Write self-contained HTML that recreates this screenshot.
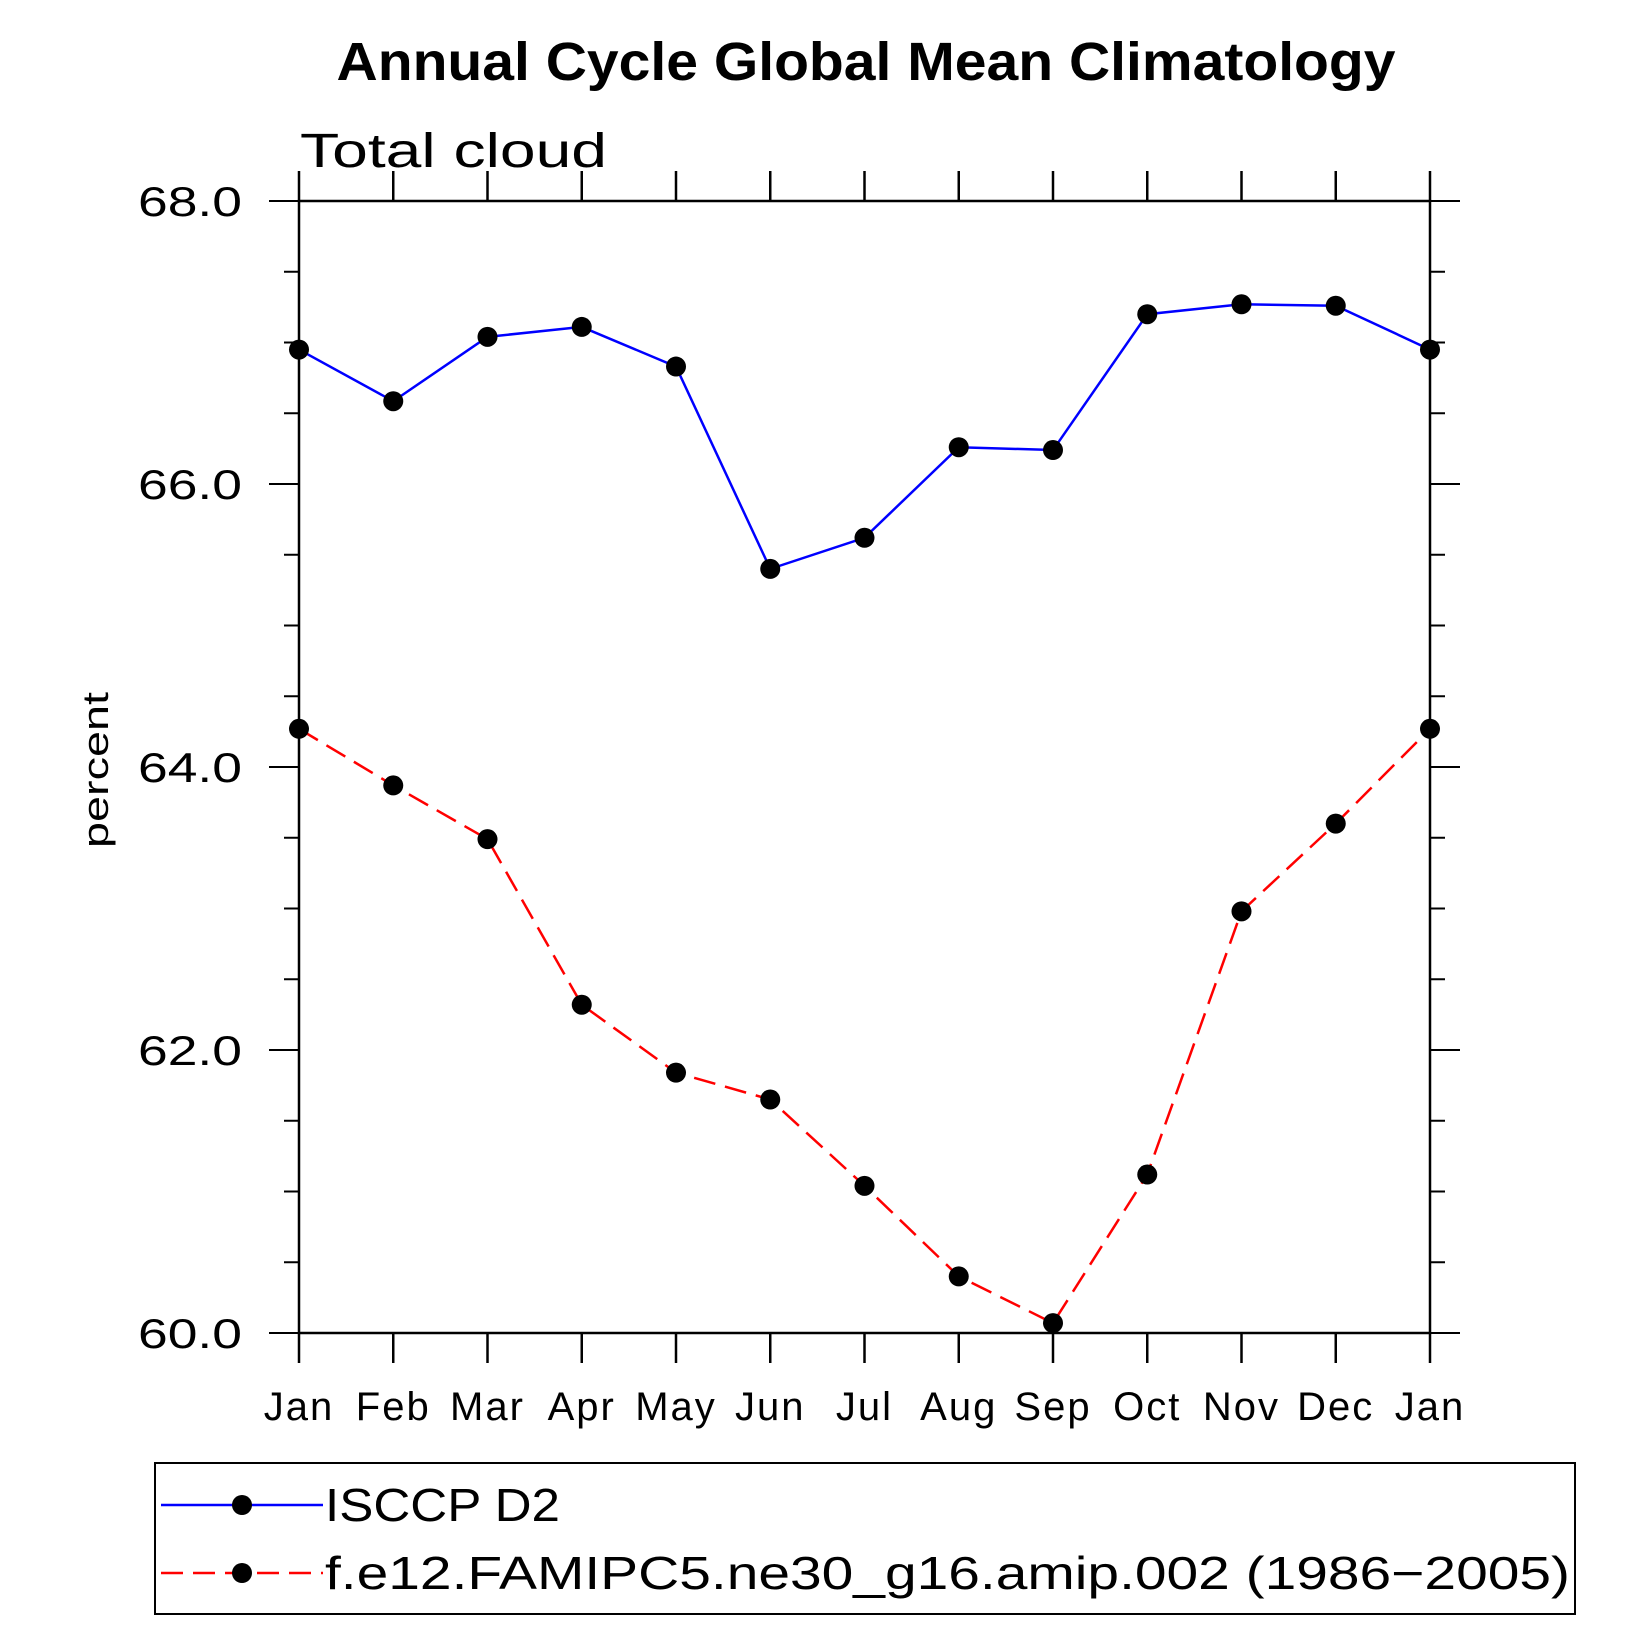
<!DOCTYPE html>
<html><head><meta charset="utf-8"><style>body{margin:0;background:#fff}svg{display:block}text{font-family:"Liberation Sans",sans-serif}</style></head>
<body>
<svg id="chart" width="1652" height="1652" viewBox="0 0 1652 1652" xmlns="http://www.w3.org/2000/svg">
<text x="866" y="80" text-anchor="middle" font-size="54" font-weight="bold" textLength="1059" lengthAdjust="spacingAndGlyphs">Annual Cycle Global Mean Climatology</text>
<text x="300" y="167" font-size="48" font-weight="300" textLength="307" lengthAdjust="spacingAndGlyphs">Total cloud</text>
<text transform="translate(108,770) rotate(-90)" text-anchor="middle" font-size="36" textLength="156" lengthAdjust="spacingAndGlyphs">percent</text>
<g id="axes"></g>
<g id="series"></g>
<g>
<rect x="155" y="1463" width="1420" height="151" fill="none" stroke="#000" stroke-width="2"/>
<g>
<line x1="161" y1="1505" x2="323" y2="1505" stroke="#00f" stroke-width="2.5"/>
<circle cx="242" cy="1505" r="10" fill="#000"/>
<text x="325" y="1521" font-size="46" textLength="235" lengthAdjust="spacingAndGlyphs">ISCCP D2</text>
</g>
<g>
<line x1="161" y1="1573" x2="323" y2="1573" stroke="#f00" stroke-width="2.5" stroke-dasharray="22,10"/>
<circle cx="242" cy="1573" r="10" fill="#000"/>
<text x="325" y="1589" font-size="46" textLength="1245" lengthAdjust="spacingAndGlyphs">f.e12.FAMIPC5.ne30_g16.amip.002 (1986−2005)</text>
</g>
</g>
</svg>
<script>
const months = ["Jan","Feb","Mar","Apr","May","Jun","Jul","Aug","Sep","Oct","Nov","Dec","Jan"];
const isccp = [66.95,66.585,67.04,67.11,66.83,65.40,65.62,66.26,66.24,67.20,67.27,67.26,66.95];
const model = [64.27,63.87,63.49,62.32,61.84,61.65,61.04,60.40,60.07,61.12,62.98,63.60,64.27];
const yTicks = [60,62,64,66,68];
const yTickLabels = ["60.0","62.0","64.0","66.0","68.0"];

const NS="http://www.w3.org/2000/svg";
const L=299,R=1430,T=201,B=1333,ymin=60,ymax=68;
const xs=i=>L+(R-L)*i/(months.length-1);
const ys=v=>B-(B-T)*(v-ymin)/(ymax-ymin);
function mk(tag,attrs,parent){const e=document.createElementNS(NS,tag);for(const k in attrs)e.setAttribute(k,attrs[k]);parent.appendChild(e);return e;}
const ax=document.getElementById('axes');
const frame=mk('rect',{x:L,y:T,width:R-L,height:B-T,fill:'none',stroke:'#000','stroke-width':2.5},ax);


months.forEach((m,i)=>{
  const x=xs(i);
  mk('line',{x1:x,y1:B,x2:x,y2:B+30,stroke:'#000','stroke-width':2.5},ax);
  mk('line',{x1:x,y1:T,x2:x,y2:T-30,stroke:'#000','stroke-width':2.5},ax);
  const t=mk('text',{x:x,y:1420,'text-anchor':'middle','font-size':40,'letter-spacing':2},ax);
  t.textContent=m;
  
  
});
for(let v=ymin;v<=ymax+1e-9;v+=0.5){
  const y=ys(v);const major=Math.abs(v-Math.round(v/2)*2)<1e-9;const len=major?30:15;
  mk('line',{x1:L,y1:y,x2:L-len,y2:y,stroke:'#000','stroke-width':2},ax);
  mk('line',{x1:R,y1:y,x2:R+len,y2:y,stroke:'#000','stroke-width':2},ax);
}
yTicks.forEach((v,i)=>{
  const t=mk('text',{x:242,y:ys(v)+15,'text-anchor':'end','font-size':42,textLength:104,lengthAdjust:'spacingAndGlyphs'},ax);
  t.textContent=yTickLabels[i];
  
  
});
const sg=document.getElementById('series');
function drawSeries(vals,color,dash,name){
  const g=mk('g',{},sg);
  
  
  const p=mk('polyline',{points:vals.map((v,i)=>xs(i)+','+ys(v)).join(' '),fill:'none',stroke:color,'stroke-width':2.5},g);
  if(dash)p.setAttribute('stroke-dasharray',dash);
  vals.forEach((v,i)=>{
    const c=mk('circle',{cx:xs(i),cy:ys(v),r:10,fill:'#000'},g);
    
    
  });
}
drawSeries(isccp,'#00f',null,'series-isccp-d2');
drawSeries(model,'#f00','22,10','series-model');
</script>
</body></html>
